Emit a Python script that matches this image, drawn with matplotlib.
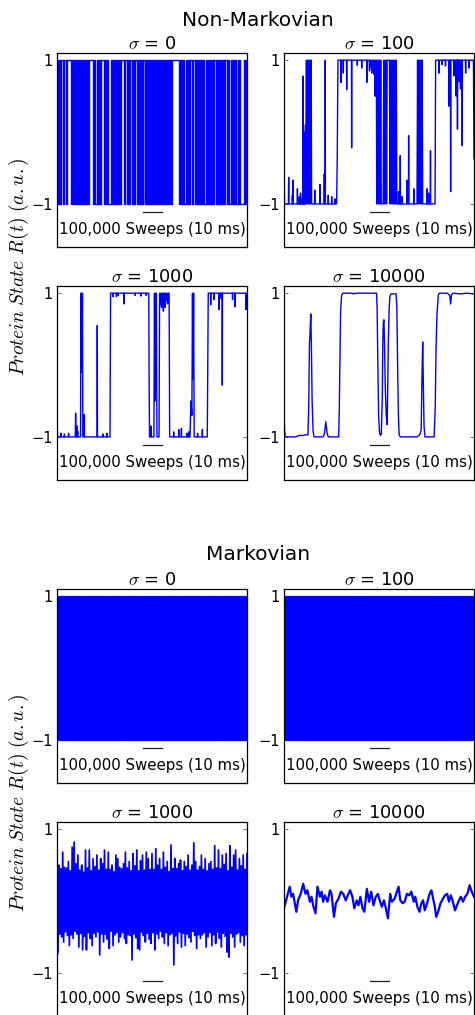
"""
Protein state traces R(t) for non-Markovian vs Markovian dynamics,
four noise levels (sigma) each, two stacked 2x2 blocks.
Output: out.png
"""
import numpy as np
import matplotlib
matplotlib.use("Agg")
import matplotlib.pyplot as plt

plt.rcParams.update({
    "font.family": "DejaVu Sans", "font.size": 10,
    "mathtext.fontset": "cm",
    "xtick.direction": "in", "ytick.direction": "in",
    "axes.linewidth": 0.9,
})

LINE_COL = "#0000ff"
SIGMAS = ["0", "100", "1000", "10000"]
STEP = 5          # thousand sweeps between samples of the state strings

# ── Non-Markovian traces ─────────────────────────────────────────────────────
# sigma = 0 : two-state telegraph, one char per 5k sweeps ('+' -> 1, '-' -> -1)
NM0_STATES = ("+-+-++-++-+++++-+-+-"
              "+-+-+-+-+-+-+-++++-+"
              "--+-+-+++-++-+---+-+"
              "-+-+-+-++++-++-+-++-"
              "+-++-+-+-+-++-+-+-+-"
              "+-+-+-+-+-++-+-+-+-+"
              "-+++++++-+-+-+--+-+-"
              "++-++-+-+-+-+-+--+-+"
              "-+-+-++-+-++-+-+-++-"
              "+--+-+-+--+-+----+-+-")

# sigma = 100 : (thousand sweeps, R)
NM100 = [
    (0, -0.3), (3, -1), (23, -1), (24.7, -0.63), (26, -1), (43, -1), (44, -0.88), (45, -1),
    (47, -1), (47.6, -0.67), (48.5, -1), (70, -1), (70.6, -0.79), (71.5, -1),
    (80, -1), (81, -0.9), (82, -1), (86, -1), (87, -0.85), (88, -1), (94, -1), (95, -0.92), (96, -1),
    (100, -1), (100.5, 0.78), (101.5, -1), (105, -1), (106, 0.0), (107, -1), (108, -0.4), (109, -1),
    (110, -0.2), (111, -1), (113, 0.1), (114, -1),
    (118, 1), (120.5, -1), (123, 1), (125.5, -1), (128, 1), (130.5, -1), (133, 1), (135.5, -1),
    (138, 1), (140.5, -1), (143, 1), (145.5, -1),
    (161, -1), (162, -0.81), (163, -1), (188, -1), (189, -0.73), (190, -1),
    (211, -1), (212, -0.58), (213, -1), (216, -1), (217, 1), (218, -1),
    (232, -1), (233, -0.88), (234, -1), (250, -1), (251, -0.9), (252, -1),
    (267, -1), (268, -0.93), (269, -1), (277, -1), (280, -0.4), (284, 1),
    (299, 1), (300, 0.69), (301, 1), (311, 1), (312, 0.82), (313, 1), (329, 1), (330, 0.59), (331, 1),
    (355, 1), (356, -0.22), (357, 1), (385, 1), (386, 0.93), (387, 1), (408, 1), (409, 0.89), (410, 1),
    (435, 1), (436, 0.69), (437, 1), (448, 1), (450, 0.85), (452, 1), (455, 0.9), (458, 1),
    (462, 0.82), (464, 1), (468, 0.88), (470, 1), (474, 0.8), (476, 1), (480, 0.5), (482, 1),
    (486, 1), (488, -1), (491, 1), (494, -1), (497, 1), (500, -1), (503, 1), (506, -1), (509, 1),
    (512, -1), (522, -1), (525, 1), (528, -1), (531, 1), (534, -1), (537, 1), (540, -1), (543, 1),
    (555, 1), (558, -1), (561, 1), (564, -1), (567, 1), (570, -1), (573, 1), (576, -1), (579, 1),
    (582, -1), (585, 1), (588, -1), (591, 1), (594, -1), (597, -1),
    (602, -1), (603, -0.83), (604, -1), (611, -1), (612, -0.33), (613, -1), (620, -1), (621, -0.9), (622, -1),
    (646, -1), (647, -0.67), (648, -1), (655, -1), (656, -0.05), (657, -1), (682, -1), (683, -0.79), (684, -1),
    (700, -1), (703, 1), (706, -1), (709, 1), (712, -1), (715, 1), (718, -1), (721, 1), (724, -1),
    (727, 1), (730, -1),
    (752, -1), (753, -0.79), (754, -1), (761, -1), (762, -0.85), (763, -1), (770, -1), (771, -0.26), (772, -1),
    (795, -1), (798, 1), (814, 1), (815, 0.82), (816, 1), (831, 1), (832, 0.94), (833, 1),
    (849, 1), (850, 0.92), (851, 1), (867, 1), (868, 0.36), (869, 1), (876, 1), (877, -0.83), (878, 1),
    (893, 1), (894, 0.78), (895, 1), (905, 1), (906, 0.5), (907, 1), (912, 1), (913, 0.04), (914, 1),
    (920, 1), (921, 0.7), (922, 1), (928, 1), (929, 0.6), (930, 1), (937, 1), (938, -0.19), (939, 1),
    (955, 1), (956, 0.82), (957, 1), (973, 1), (974, 0.89), (975, 1), (997, 1), (1000, -0.37),
]

# sigma = 1000
NM1000 = [
    (0, -1), (1.5, -0.86), (3, -1), (20, -1), (21, -0.95), (22, -1), (38, -1), (39, -0.96), (40, -1),
    (60, -1), (61, -0.95), (62, -1), (96, -1), (98, -0.67), (100, -1),
    (103, -1), (104, -0.9), (105, -0.97), (106, -0.85), (107, -1), (109, -0.92), (110, -1),
    (124, -1), (126, 1), (128, -0.1), (130, 1), (132, 0.0), (134, 1), (136, -1),
    (143, -1), (144, -0.69), (145, -1), (211, -1), (212, 0.55), (213, -1),
    (240, -1), (241, -0.96), (242, -1), (262, -1), (263, -0.95), (264, -1), (279, -1), (282, 1),
    (295, 1), (296, 0.95), (297, 1), (312, 1), (313, 0.95), (314, 1), (321, 1), (322, 0.97), (323, 1),
    (351, 1), (352, 0.85), (353, 1), (410, 1), (411, 0.97), (412, 1), (440, 1), (441, 0.96), (442, 1),
    (468, 1), (469, 0.97), (470, 1), (483, 1), (485, -0.3), (487, -1),
    (495, -1), (496, -0.85), (497, -1),
    (510, -1), (513, 1), (516, -0.5), (518, 1), (521, 0.2), (523, 1), (526, -1), (537, -1), (540, 1),
    (545, 0.85), (547, 1), (550, 0.8), (552, 1), (555, 0.9), (557, 1), (560, 0.75), (562, 1),
    (565, 0.9), (567, 1), (570, 0.8), (572, 1), (576, 0.9), (578, 1), (582, 0.85), (584, 1),
    (590, 1), (593, -1), (613, -1), (614, -0.93), (615, -1), (640, -1), (641, -0.9), (642, -1),
    (654, -1), (655, -0.88), (656, -1), (684, -1), (685, -0.95), (686, -1), (693, -1), (694, -0.93), (695, -1),
    (700, -1), (705, -0.5), (710, -0.7), (713, 1), (716, -0.2), (719, 1), (722, -1),
    (739, -1), (740, -0.95), (741, -1), (764, -1), (765, -0.9), (766, -1), (791, -1), (796, 1),
    (808, 1), (809, 0.84), (810, 1), (826, 1), (827, 0.91), (828, 1), (852, 1), (853, 0.77), (854, 1),
    (861, 1), (862, 0.93), (863, 1), (869, 1), (870, -0.28), (871, 1), (923, 1), (924, 0.91), (925, 1),
    (935, 1), (936, 0.81), (937, 1), (994, 1), (995, 0.77), (996, 1), (1000, 0.98),
]

# sigma = 10000
NM10000 = [
    (0, -0.62), (3, -0.9), (6, -0.99), (12, -1), (60, -1), (80, -0.98), (100, -0.98), (115, -0.97),
    (126, -0.97), (130, -0.6), (134, 0.3), (137, 0.45), (141, 0.71), (144, 0.3), (148, -0.5),
    (153, -0.92), (158, -1), (205, -1), (212, -0.97), (220, -0.79), (227, -0.95), (233, -1),
    (288, -1), (291, -0.6), (295, 0.2), (298, 0.75), (303, 0.97), (310, 1), (360, 1), (365, 0.99),
    (380, 1), (487, 1), (490, 0.8), (494, 0.0), (498, -0.7), (503, -0.95), (508, -0.98), (512, -0.96),
    (517, -0.5), (520, 0.3), (523, 0.6), (526, 0.63), (529, 0.3), (533, -0.3), (538, -0.7), (543, -0.83),
    (546, -0.3), (549, 0.3), (553, 0.75), (557, 0.95), (562, 0.99), (590, 0.99), (594, 0.8), (598, 0.0),
    (602, -0.7), (606, -0.97), (612, -1), (700, -1), (715, -0.97), (722, -0.9), (726, -0.2), (730, 0.32),
    (733, -0.2), (737, -0.85), (742, -1), (790, -1), (796, -0.6), (800, 0.2), (805, 0.7), (812, 0.97),
    (818, 1), (860, 1), (872, 0.97), (877, 0.85), (882, 0.98), (890, 1), (930, 0.99), (960, 1), (1000, 0.99),
]

# ── Markovian traces ─────────────────────────────────────────────────────────
M0_STATES = ("+-+-+-+-+-+-+-+-+-+-" "+-+-+-+-+-+-+-+-+-+-" "+-+-+-+-+-+-+-+-+-+-"
             "+-+-+-+-+-+-+-+-+-+-" "+-+-+-+-+-+-+-+-+-+-" "+-+-+-+-+-+-+-+-+-+-"
             "+-+-+-+-+-+-+-+-+-+-" "+-+-+-+-+-+-+-+-+-+-" "+-+-+-+-+-+-+-+-+-+-"
             "+-+-+-+-+-+-+-+-+-+-+")
M100_STATES = ("-+-+-+-+-+-+-+-+-+-+" "-+-+-+-+-+-+-+-+-+-+" "-+-+-+-+-+-+-+-+-+-+"
               "-+-+-+-+-+-+-+-+-+-+" "-+-+-+-+-+-+-+-+-+-+" "-+-+-+-+-+-+-+-+-+-+"
               "-+-+-+-+-+-+-+-+-+-+" "-+-+-+-+-+-+-+-+-+-+" "-+-+-+-+-+-+-+-+-+-+"
               "-+-+-+-+-+-+-+-+-+-+-")

# sigma = 1000 : upper excursions at 0,10,..,1000 k, lower at 5,15,..,995 k
M1000_HI = [0.43, 0.50, 0.45, 0.68, 0.47, 0.46, 0.55, 0.42, 0.75, 0.82,
            0.52, 0.64, 0.43, 0.50, 0.40, 0.71, 0.46, 0.71, 0.42, 0.59,
            0.48, 0.64, 0.43, 0.59, 0.52, 0.71, 0.44, 0.68, 0.44, 0.50,
            0.41, 0.64, 0.59, 0.47, 0.45, 0.52, 0.68, 0.46, 0.55, 0.42,
            0.66, 0.49, 0.71, 0.42, 0.56, 0.64, 0.43, 0.68, 0.59, 0.44,
            0.66, 0.44, 0.73, 0.50, 0.59, 0.44, 0.68, 0.47, 0.55, 0.41,
            0.78, 0.45, 0.59, 0.45, 0.52, 0.57, 0.42, 0.55, 0.48, 0.64,
            0.43, 0.50, 0.81, 0.55, 0.43, 0.48, 0.64, 0.44, 0.59, 0.42,
            0.52, 0.55, 0.44, 0.77, 0.46, 0.71, 0.45, 0.64, 0.51, 0.66,
            0.42, 0.77, 0.47, 0.64, 0.71, 0.43, 0.59, 0.49, 0.64, 0.44, 0.66]
M1000_LO = [-0.73, -0.46, -0.50, -0.57, -0.43, -0.48, -0.62, -0.47, -0.52, -0.42,
            -0.46, -0.64, -0.45, -0.68, -0.49, -0.68, -0.44, -0.52, -0.62, -0.45,
            -0.50, -0.43, -0.75, -0.46, -0.57, -0.46, -0.53, -0.66, -0.42, -0.62,
            -0.47, -0.44, -0.57, -0.50, -0.44, -0.52, -0.59, -0.47, -0.48, -0.82,
            -0.46, -0.51, -0.66, -0.68, -0.43, -0.48, -0.57, -0.45, -0.53, -0.59,
            -0.44, -0.68, -0.46, -0.52, -0.42, -0.50, -0.59, -0.44, -0.62, -0.47,
            -0.45, -0.89, -0.49, -0.59, -0.43, -0.64, -0.45, -0.62, -0.46, -0.51,
            -0.57, -0.42, -0.48, -0.66, -0.47, -0.52, -0.47, -0.44, -0.64, -0.50,
            -0.44, -0.62, -0.47, -0.59, -0.43, -0.52, -0.64, -0.45, -0.49, -0.71,
            -0.78, -0.45, -0.50, -0.64, -0.46, -0.44, -0.57, -0.48, -0.62, -0.47]

# sigma = 10000
M10000 = [
    (0, -0.10), (7, -0.03), (18, 0.08), (30, 0.20), (39, 0.06), (48, 0.10), (65, -0.15), (74, 0.01),
    (88, 0.10), (101, 0.24), (113, 0.10), (123, 0.15), (136, -0.01), (145, 0.06), (153, -0.06),
    (166, -0.17), (176, 0.20), (189, 0.06), (198, 0.13), (206, -0.01), (215, 0.08), (229, -0.01),
    (242, 0.15), (250, 0.10), (263, -0.22), (273, -0.03), (286, 0.03), (300, 0.13), (312, 0.10),
    (325, 0.01), (339, 0.10), (348, 0.15), (360, 0.06), (370, -0.10), (383, 0.01), (392, -0.06),
    (402, 0.06), (413, -0.10), (423, -0.15), (436, 0.17), (448, -0.01), (459, 0.13), (471, -0.06),
    (483, 0.06), (494, 0.10), (506, -0.01), (515, -0.08), (526, 0.01), (536, -0.10), (547, -0.24),
    (559, 0.10), (568, -0.01), (582, 0.03), (594, 0.13), (603, 0.20), (612, 0.01), (624, -0.03),
    (635, -0.01), (647, 0.10), (660, 0.08), (670, 0.13), (683, -0.01), (691, 0.06), (702, -0.08),
    (713, -0.15), (723, -0.03), (732, 0.01), (741, -0.13), (753, -0.03), (766, 0.10), (776, 0.15),
    (785, 0.03), (794, -0.08), (801, -0.22), (811, -0.15), (824, -0.03), (836, 0.03), (847, 0.08),
    (859, 0.10), (868, -0.01), (878, 0.08), (889, -0.01), (900, -0.13), (910, -0.06), (921, 0.01),
    (931, 0.06), (942, -0.01), (953, 0.06), (965, 0.10), (977, 0.22), (988, 0.13), (1000, 0.06),
]


def from_states(states):
    r = np.array([1.0 if c == "+" else -1.0 for c in states])
    return np.arange(len(r)) * STEP, r


def from_pairs(pairs):
    a = np.array(pairs, dtype=float)
    return a[:, 0], a[:, 1]


def from_hi_lo(hi, lo):
    t = np.empty(len(hi) + len(lo)); r = np.empty_like(t)
    t[0::2] = np.arange(len(hi)) * 2 * STEP; r[0::2] = hi
    t[1::2] = np.arange(len(lo)) * 2 * STEP + STEP; r[1::2] = lo
    return t, r


# (trace, drawstyle, linewidth)
BLOCKS = [
    ("Non-Markovian", [(from_states(NM0_STATES), "steps-post", 1.0),
                       (from_pairs(NM100), "default", 1.0),
                       (from_pairs(NM1000), "default", 1.0),
                       (from_pairs(NM10000), "default", 1.0)]),
    ("Markovian", [(from_states(M0_STATES), "steps-post", 0.9),
                   (from_states(M100_STATES), "steps-post", 0.9),
                   (from_hi_lo(M1000_HI, M1000_LO), "default", 1.25),
                   (from_pairs(M10000), "default", 1.6)]),
]

W, H = 475, 1015
fig = plt.figure(figsize=(W / 100, H / 100), dpi=100, facecolor="white")

COL_X = [57, 284]                       # left edge of each column (px)
ROW_TOP = [[53, 286], [589, 822]]       # top edge of each row, per block (px)
AX_W, AX_H = 190, 194
BLOCK_TITLE_Y = [20, 555]
YLABEL_Y = [266.5, 802.5]

for b, (btitle, traces) in enumerate(BLOCKS):
    fig.text(258 / W, 1 - BLOCK_TITLE_Y[b] / H, btitle, ha="center", va="center", fontsize=14.5)
    fig.text(19 / W, 1 - YLABEL_Y[b] / H, r"$Protein\ State\ R(t)\ (a.u.)$",
             rotation=90, ha="center", va="center", fontsize=14)
    for k, ((t, r), ds, lw) in enumerate(traces):
        row, col = divmod(k, 2)
        top = ROW_TOP[b][row]
        ax = fig.add_axes([COL_X[col] / W, 1 - (top + AX_H) / H, AX_W / W, AX_H / H])
        ax.plot(t, r, color=LINE_COL, lw=lw, drawstyle=ds)
        ax.set_xlim(0, 1000)
        ax.set_ylim(-1.6, 1.1)
        ax.set_xticks([])
        ax.set_yticks([-1, 1])
        ax.tick_params(axis="y", left=True, right=True, length=3, width=0.6,
                       color="#555555", pad=3, labelsize=10.5)
        # scale bar
        ax.plot([450, 550], [-1.11, -1.11], color="#222222", lw=0.9)
        ax.text(500, -1.35, "100,000 Sweeps (10 ms)", ha="center", va="center", fontsize=10.8)
        ax.set_title(r"$\sigma$ = " + SIGMAS[k], fontsize=12.8, pad=3)

fig.savefig("out.png", dpi=100, facecolor="white")
